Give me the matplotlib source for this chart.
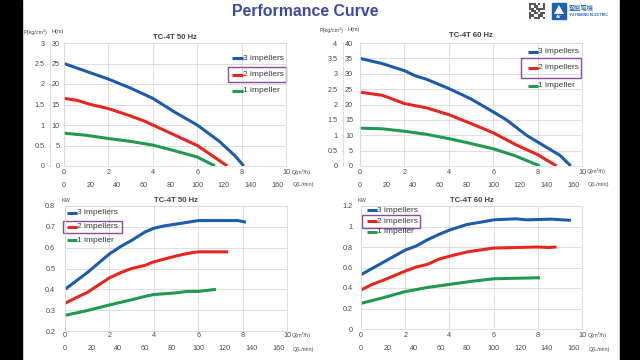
import matplotlib
matplotlib.use("Agg")
import matplotlib.pyplot as plt
from matplotlib.patches import Rectangle, Polygon
from matplotlib.ticker import FormatStrFormatter, MultipleLocator

plt.rcParams["font.family"] = ["Liberation Sans", "DejaVu Sans"]

# ---- data (Q in m3/h) ----
series_names = ["3 impellers", "2 impellers", "1 impeller"]
colors = ["#1b5dab", "#e8261f", "#1f9a4f"]

# head curves, 50 Hz (H in m)
q50_h3 = [0, 1, 2, 3, 4, 5, 6, 7, 7.7, 8.1]
h50_3 = [25, 23.1, 21.2, 19, 16.5, 13.1, 10, 6, 2.5, 0]
q50_h2 = [0, 0.6, 1.2, 2, 3, 3.6, 4, 5, 6, 6.6, 7.35]
h50_2 = [16.5, 16, 15, 14, 12.2, 11, 10, 7.5, 5, 2.8, 0]
q50_h1 = [0, 1, 2, 3, 4, 5, 6, 6.8]
h50_1 = [8, 7.5, 6.7, 6, 5.1, 3.7, 2.2, 0]

# head curves, 60 Hz
q60_h3 = [0, 1, 2, 2.5, 3, 4, 5, 6, 6.6, 7.5, 8, 9, 9.5]
h60_3 = [35, 33.3, 31, 29.3, 28.2, 25.2, 21.8, 17.6, 15, 10, 7.8, 3.5, 0]
q60_h2 = [0, 1, 1.3, 2, 3, 4, 5, 6, 7, 7.6, 8, 8.85]
h60_2 = [24, 23, 22.2, 20.3, 18.9, 16.7, 13.8, 10.8, 7, 5, 3.7, 0]
q60_h1 = [0, 1, 2, 3, 4, 5, 6, 7, 8.1]
h60_1 = [12.3, 12.1, 11.3, 10.3, 8.9, 7.3, 5.6, 3.3, 0]

# power curves, 50 Hz (kW)
q50_p3 = [0, 0.5, 1, 1.5, 2, 2.5, 3, 3.6, 4, 4.5, 5, 6, 7, 7.8, 8.15]
p50_3 = [0.40, 0.44, 0.48, 0.525, 0.57, 0.605, 0.635, 0.675, 0.693, 0.705, 0.713, 0.73, 0.73, 0.73, 0.722]
q50_p2 = [0, 0.5, 1, 1.5, 2, 2.5, 3, 3.6, 4, 5, 5.5, 6, 7, 7.35]
p50_2 = [0.333, 0.36, 0.385, 0.42, 0.455, 0.48, 0.5, 0.515, 0.532, 0.56, 0.572, 0.58, 0.58, 0.58]
q50_p1 = [0, 1, 2, 3, 3.6, 4, 5, 5.5, 6, 6.8]
p50_1 = [0.275, 0.298, 0.325, 0.35, 0.366, 0.375, 0.383, 0.39, 0.39, 0.4]

# power curves, 60 Hz
q60_p3 = [0, 1, 2, 2.5, 3, 3.5, 4, 4.8, 5.5, 6, 7, 7.5, 8, 8.6, 9.5]
p60_3 = [0.53, 0.65, 0.77, 0.81, 0.87, 0.92, 0.965, 1.02, 1.045, 1.065, 1.075, 1.065, 1.068, 1.072, 1.06]
q60_p2 = [0, 0.5, 1, 2, 2.5, 3, 3.5, 4, 4.8, 6, 7, 8, 8.5, 8.85]
p60_2 = [0.38, 0.435, 0.475, 0.565, 0.605, 0.63, 0.68, 0.71, 0.752, 0.79, 0.795, 0.8, 0.795, 0.8]
q60_p1 = [0, 1, 2, 3, 4, 5, 6, 7, 8.1]
p60_1 = [0.25, 0.305, 0.365, 0.405, 0.435, 0.465, 0.49, 0.495, 0.5]

lpm_ticks = [0, 20, 40, 60, 80, 100, 120, 140, 160]

GRID = "#d9d9d9"
TXT = "#4a4a4a"
PURPLE = "#8a4b9e"
W, H = 640, 360

fig = plt.figure(figsize=(6.4, 3.6), dpi=100)
fig.patch.set_facecolor("white")


def px(x, y):
    return x / W, 1 - y / H


def make_axes(l, t, r, b):
    return fig.add_axes([l / W, 1 - b / H, (r - l) / W, (b - t) / H])


def style(ax, ylim, ystep, xpad, ypad, lpm_loc):
    ax.set_xlim(0, 10)
    ax.set_ylim(*ylim)
    ax.xaxis.set_major_locator(MultipleLocator(2))
    ax.yaxis.set_major_locator(MultipleLocator(ystep))
    ax.xaxis.set_major_formatter(FormatStrFormatter("%g"))
    ax.yaxis.set_major_formatter(FormatStrFormatter("%g"))
    ax.grid(True, color=GRID, lw=0.6)
    ax.set_axisbelow(True)
    for s in ax.spines.values():
        s.set_color(GRID)
        s.set_linewidth(0.6)
    ax.tick_params(axis="x", length=0, labelsize=5.2, colors=TXT, pad=xpad)
    ax.tick_params(axis="y", length=0, labelsize=5.2, colors=TXT, pad=ypad)
    sec = ax.secondary_xaxis(lpm_loc, functions=(lambda q: q * 1000 / 60, lambda l: l * 60 / 1000))
    sec.set_xticks(lpm_ticks)
    sec.spines["bottom"].set_visible(False)
    sec.tick_params(length=0, labelsize=5.2, colors=TXT, pad=0)


def pressure_axis(ax, loc, top):
    sec = ax.secondary_yaxis(loc, functions=(lambda h: h / 10, lambda p: p * 10))
    sec.set_yticks([i * 0.5 for i in range(int(top / 0.5) + 1)])
    sec.yaxis.set_major_formatter(FormatStrFormatter("%g"))
    sec.spines["left"].set_color(GRID)
    sec.spines["left"].set_linewidth(0.6)
    sec.tick_params(length=1.5, width=0.6, color=GRID, labelsize=5.2, colors=TXT, pad=2.5)


def legend(ax, ys, x0, x1, box):
    for name, c, y in zip(series_names, colors, ys):
        ax.plot([x0, x1], [y, y], color=c, lw=2.2, transform=ax.transAxes,
                clip_on=False, solid_capstyle="butt")
        ax.text(x1, y, name, transform=ax.transAxes, va="center", ha="left",
                fontsize=6, color="#3a3a3a")
    ax.add_patch(Rectangle((box[0], box[1]), box[2] - box[0], box[3] - box[1],
                           transform=ax.transAxes, fill=False, ec=PURPLE, lw=1.0,
                           clip_on=False))


def curves(ax, qs, vs):
    for q, v, c in zip(qs, vs, colors):
        ax.plot(q, v, color=c, lw=2.2, solid_capstyle="butt")


# A. head 50 Hz
ax1 = make_axes(64, 43, 286, 166)
curves(ax1, [q50_h3, q50_h2, q50_h1], [h50_3, h50_2, h50_1])
style(ax1, (0, 30), 5, 2, 3, -0.128)
pressure_axis(ax1, -0.063, 3)
legend(ax1, [0.878, 0.740, 0.610], 0.757, 0.806, (0.739, 0.680, 1.0, 0.807))
ax1.set_title("TC-4T 50 Hz", fontsize=5.6, fontweight="bold", color="#404040", pad=3)

# B. head 60 Hz
ax2 = make_axes(360, 43, 582, 166)
curves(ax2, [q60_h3, q60_h2, q60_h1], [h60_3, h60_2, h60_1])
style(ax2, (0, 40), 5, 2, 5, -0.128)
pressure_axis(ax2, -0.077, 4)
legend(ax2, [0.929, 0.797, 0.653], 0.755, 0.80, (0.725, 0.718, 0.995, 0.878))
ax2.set_title("TC-4T 60 Hz", fontsize=5.6, fontweight="bold", color="#404040", pad=4)

# C. power 50 Hz
ax3 = make_axes(65, 206, 287, 331)
curves(ax3, [q50_p3, q50_p2, q50_p1], [p50_3, p50_2, p50_1])
style(ax3, (0.2, 0.8), 0.1, 0.5, 7, -0.116)
legend(ax3, [0.944, 0.834, 0.728], 0.009, 0.054, (-0.01, 0.782, 0.257, 0.88))
ax3.set_title("TC-4T 50 Hz", fontsize=5.6, fontweight="bold", color="#404040", pad=3)

# D. power 60 Hz
ax4 = make_axes(361, 206, 582, 329)
curves(ax4, [q60_p3, q60_p2, q60_p1], [p60_3, p60_2, p60_1])
style(ax4, (0, 1.2), 0.2, 2, 5.8, -0.134)
legend(ax4, [0.967, 0.878, 0.791], 0.026, 0.072, (0.005, 0.824, 0.267, 0.927))
ax4.set_title("TC-4T 60 Hz", fontsize=5.6, fontweight="bold", color="#404040", pad=3)

# axis captions
small = dict(fontsize=4, color=TXT, va="center", ha="left")
for xp, xh in [(24, 52), (320, 348)]:
    fig.text(*px(xp, 32 if xp < 300 else 30), "P(kg/cm²)", **small)
    fig.text(*px(xh, 32 if xp < 300 else 30), "H(m)", **small)
for xk in [62, 357]:
    fig.text(*px(xk, 200), "KW", **small)
for xq, yq, yl in [(292, 172, 184.5), (587, 171, 184.5), (292, 335.5, 349), (588, 335.5, 349)]:
    fig.text(*px(xq, yq), "Q(m³/h)", **small)
    fig.text(*px(xq + 1, yl), "Q(L/min)", **small)

# main title
fig.text(*px(305, 12), "Performance Curve", fontsize=11.4, fontweight="bold",
         color="#3a49a5", ha="center", va="center")

# logo
qr = ["1110101", "1011001", "1101111", "0110100", "1011011", "1100110", "1011101"]
lax = fig.add_axes([529 / W, 1 - 19 / H, 16 / W, 16 / H])
lax.imshow([[0.35 if ch == "1" else 1.0 for ch in row] for row in qr], cmap="gray",
           vmin=0, vmax=1, interpolation="nearest", aspect="auto")
lax.axis("off")
fig.patches.append(Rectangle(px(552, 19), 14 / W, 16 / H, transform=fig.transFigure,
                             color="#1d5fb4"))
fig.patches.append(Polygon([px(559, 5), px(554, 14), px(564, 14)], closed=True,
                           transform=fig.transFigure, fc="white", ec="none"))
fig.text(*px(559, 16.5), "AV", fontsize=3, color="white", ha="center", va="center",
         fontweight="bold")
fig.text(*px(569, 7.5), "豎盛電機", fontsize=4.5, color="#1d5fb4", ha="left", va="center",
         family=["Noto Sans CJK TC", "DejaVu Sans"])
fig.text(*px(569, 15.5), "YU HSIENG ELECTRIC", fontsize=2.6, color="#1d5fb4", ha="left",
         va="center", fontweight="bold")

# black side bands
fig.patches.append(Rectangle((0, 0), 22 / W, 1, transform=fig.transFigure, color="black"))
fig.patches.append(Rectangle((620 / W, 0), 20 / W, 1, transform=fig.transFigure, color="black"))

fig.savefig("out.png", dpi=100)
